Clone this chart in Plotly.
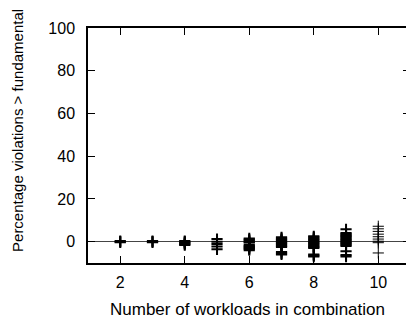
import plotly.graph_objects as go

# Data
workloads = [2, 3, 4, 5, 6, 7, 8, 9, 10]
violations = {
    2: [0, 0.3, -0.3],
    3: [0, 0.3, -0.3],
    4: [0.3, 0, -0.4, -0.8, -1.2, -1.6],
    5: [1.2, 0, -1.1, -2.3, -3.6],
    6: [1.5, 1, 0.5, 0, -0.4, -1.5, -2, -2.5, -3, -3.5, -4],
    7: [2, 1.5, 1, 0.5, 0, -0.5, -1, -1.5, -2, -2.5, -4.8, -5.5, -6],
    8: [2.5, 2, 1.5, 1, 0.5, 0, -0.5, -1, -1.5, -2, -2.5, -3, -6, -6.5, -7],
    9: [5.8, 4, 3.5, 3, 2.5, 2, 1.5, 1, 0.5, 0, -0.5, -1, -1.5, -2, -4.5, -6.3, -7],
    10: [7.2, 6, 4.8, 3.5, 2.3, 1.2, 0.2, -0.5, -5.3],
}
x_ticks = [2, 4, 6, 8, 10]
y_ticks = [0, 20, 40, 60, 80, 100]

FONT = "Liberation Sans, Arial, sans-serif"

fig = go.Figure()
for w in workloads:
    vals = violations[w]
    fig.add_trace(go.Scatter(
        x=[w] * len(vals), y=vals, mode="markers",
        marker=dict(symbol="cross-thin", size=8, color="black",
                    line=dict(color="black", width=1 if w == 10 else 2)),
        showlegend=False, hoverinfo="skip",
    ))
# dummy trace for right-hand tick axis
fig.add_trace(go.Scatter(x=[None], y=[None], yaxis="y2", showlegend=False, hoverinfo="skip"))

fig.update_layout(
    width=406, height=320,
    margin=dict(l=88, r=0, t=28, b=57),
    paper_bgcolor="white", plot_bgcolor="white",
    font=dict(family=FONT, color="black"),
    xaxis=dict(
        range=[1, 10.859], tickvals=x_ticks, ticks="inside", ticklen=7,
        tickcolor="black", showline=True, linecolor="black", linewidth=1.5,
        mirror="ticks", showgrid=False, zeroline=False,
        tickfont=dict(size=16, family=FONT), ticklabelstandoff=4,
    ),
    yaxis=dict(
        range=[-10, 100], tickvals=y_ticks, ticks="inside", ticklen=7,
        tickcolor="black", showline=True, linecolor="black", linewidth=1.5,
        showgrid=False, zeroline=True, zerolinecolor="#444", zerolinewidth=1,
        tickfont=dict(size=16, family=FONT), ticklabelstandoff=8,
    ),
    yaxis2=dict(
        range=[-10, 100], overlaying="y", side="right", anchor="x",
        tickvals=y_ticks, ticks="inside", ticklen=3, tickcolor="black",
        showticklabels=False, showline=False, showgrid=False, zeroline=False,
    ),
    annotations=[
        dict(text="Number of workloads in combination", xref="paper", yref="paper",
             x=0.5, y=-0.15, xanchor="center", yanchor="top", showarrow=False,
             font=dict(size=17, family=FONT)),
        dict(text="Percentage violations > fundamental", xref="paper", yref="paper",
             x=-0.22, y=0.562, xanchor="center", yanchor="middle", textangle=-90,
             showarrow=False, font=dict(size=15, family=FONT)),
    ],
)

fig.write_html("out.html", config={"displayModeBar": False},
               post_script="document.body.style.margin='0';")
